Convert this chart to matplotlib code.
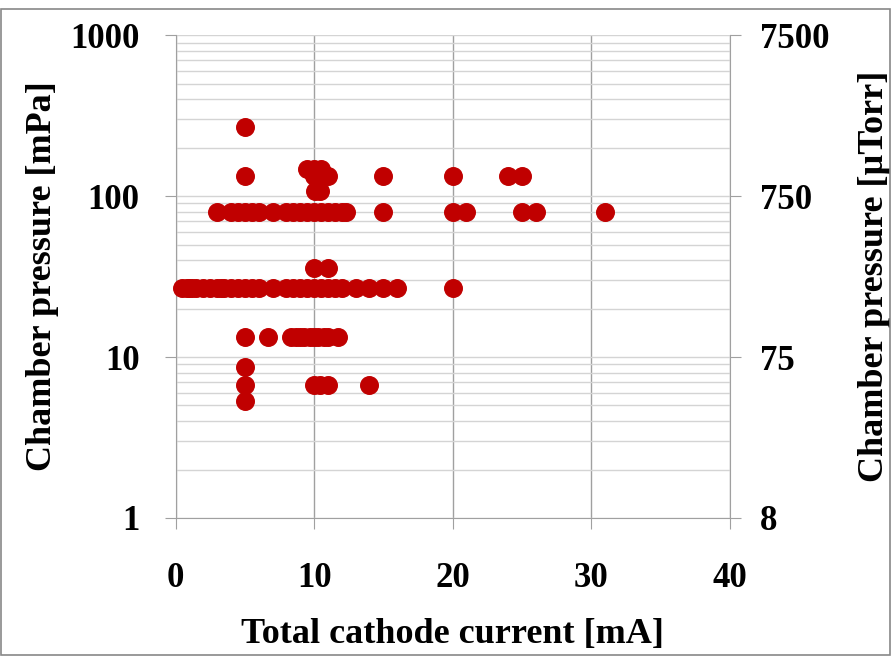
import matplotlib.pyplot as plt
from matplotlib.ticker import FixedLocator, NullFormatter

# data: total cathode current [mA] vs chamber pressure [mPa]
x_267 = [5]
y_267 = [267] * len(x_267)

x_147 = [9.5, 10, 10.5]
y_147 = [147] * len(x_147)

x_133 = [5, 10, 10.5, 11, 15, 20, 24, 25]
y_133 = [133] * len(x_133)

x_107 = [10.1, 10.4]
y_107 = [107] * len(x_107)

x_80 = [3, 4, 4.5, 5, 5.5, 6, 7, 8, 8.5, 9, 9.5, 10, 10.5, 11, 11.5, 12, 12.3,
        15, 20, 21, 25, 26, 31]
y_80 = [80] * len(x_80)

x_36 = [10, 11]
y_36 = [36] * len(x_36)

x_27 = [0.5, 0.8, 1, 1.2, 1.5, 2, 2.5, 3, 3.3, 3.5, 4, 4.5, 5, 5.5, 6, 7, 8,
        8.5, 9, 9.5, 10, 10.5, 11, 11.5, 12, 13, 14, 15, 16, 20]
y_27 = [26.7] * len(x_27)

x_13 = [5, 6.7, 8.3, 8.7, 9, 9.3, 9.7, 10, 10.3, 10.7, 11, 11.7]
y_13 = [13.3] * len(x_13)

x_8 = [5]
y_8 = [8.7] * len(x_8)

x_6 = [5, 10, 10.4, 11, 14]
y_6 = [6.7] * len(x_6)

x_5 = [5]
y_5 = [5.3] * len(x_5)

xs = x_267 + x_147 + x_133 + x_107 + x_80 + x_36 + x_27 + x_13 + x_8 + x_6 + x_5
ys = y_267 + y_147 + y_133 + y_107 + y_80 + y_36 + y_27 + y_13 + y_8 + y_6 + y_5

right_ticks = [7.5, 75, 750, 7500]
right_labels = ['8', '75', '750', '7500']

plt.rcParams['font.family'] = 'Liberation Serif'
plt.rcParams['font.weight'] = 'bold'

fig = plt.figure(figsize=(8.91, 6.56), dpi=100)
fig.patches.append(plt.Rectangle((0.001, 0.001), 0.998, 0.986, transform=fig.transFigure,
                                 fill=False, edgecolor='#888888', linewidth=1.2))
ax = fig.add_axes([0.197, 0.2104, 0.622, 0.736])

ax.set_yscale('log')
ax.set_ylim(1, 1000)
ax.set_xlim(0, 40)
ax.set_xticks([0, 10, 20, 30, 40])
ax.set_yticks([1, 10, 100, 1000])
ax.set_yticklabels(['1', '10', '100', '1000'])
ax.yaxis.set_minor_locator(FixedLocator([m * 10 ** e for e in range(0, 3) for m in range(2, 10)]))
ax.yaxis.set_minor_formatter(NullFormatter())

ax.grid(True, axis='y', which='both', color='#d4d4d4', linewidth=1)
ax.grid(True, axis='x', which='major', color='#a0a0a0', linewidth=1)
ax.set_axisbelow(True)

ax.scatter(xs, ys, s=160, color='#c00000', zorder=3, clip_on=False)

for side in ['top', 'right']:
    ax.spines[side].set_visible(False)
for side in ['left', 'bottom']:
    ax.spines[side].set_color('#a0a0a0')
ax.tick_params(axis='y', which='major', direction='out', length=8, color='#a0a0a0',
               labelsize=25, pad=18)
ax.tick_params(axis='x', which='major', direction='out', length=8, color='#a0a0a0',
               labelsize=25, pad=24)
ax.tick_params(axis='y', which='minor', length=0)

ax.set_xlabel('Total cathode current [mA]', fontsize=26, fontweight='bold', labelpad=16)
ax.set_ylabel('Chamber pressure [mPa]', fontsize=26, fontweight='bold', labelpad=8)

ax2 = ax.twinx()
ax2.set_yscale('log')
ax2.set_ylim(7.5, 7500)
ax2.yaxis.set_major_locator(FixedLocator(right_ticks))
ax2.set_yticklabels(right_labels)
ax2.yaxis.set_minor_locator(FixedLocator([]))
for side in ['top', 'left', 'bottom']:
    ax2.spines[side].set_visible(False)
ax2.spines['right'].set_color('#a0a0a0')
ax2.tick_params(axis='y', which='major', direction='out', length=8, color='#a0a0a0',
                labelsize=25, pad=14)
ax2.set_ylabel('Chamber pressure [µTorr]', fontsize=26, fontweight='bold', labelpad=20)

fig.savefig('out.png', dpi=100)
